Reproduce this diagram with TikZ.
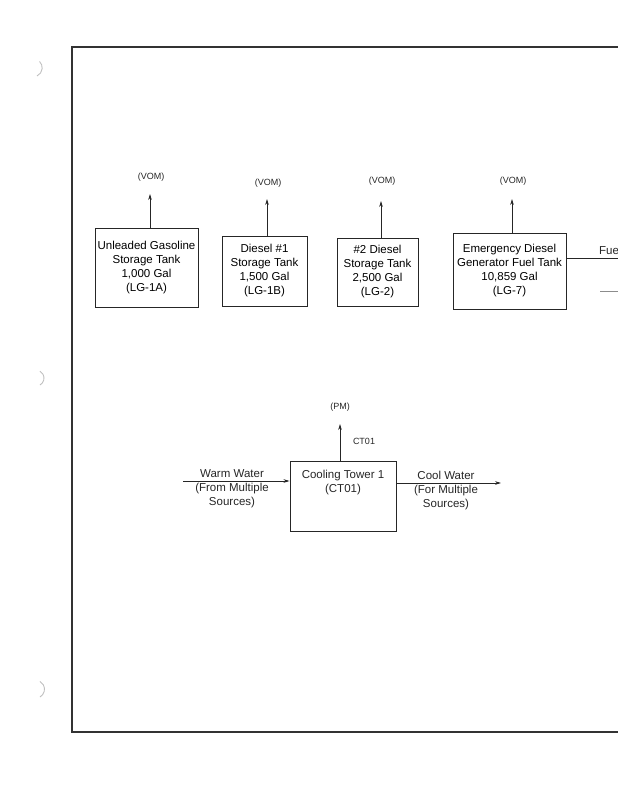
\documentclass[tikz,border=0pt]{standalone}
\usepackage{fontspec}
\setmainfont{Liberation Sans}
\usetikzlibrary{arrows.meta}
\begin{document}
\begin{tikzpicture}[x=1pt,y=-1pt,
  tank/.style={draw=black!85,line width=0.9pt,inner sep=0pt,align=center,font=\fontsize{11.5}{14}\selectfont},
  lbl/.style={inner sep=0pt,align=center,font=\fontsize{11.5}{14}\selectfont,text=black!85},
  small/.style={inner sep=0pt,font=\fontsize{9}{11}\selectfont,text=black!85},
  flow/.style={draw=black!85,line width=0.8pt,-{Stealth[length=6pt,width=3.6pt]}},
  plain/.style={draw=black!85,line width=0.8pt},
  frame/.style={draw=black!80,line width=1.6pt},
  hole/.style={draw=black!25,line width=0.9pt}]
\useasboundingbox (0,0) rectangle (618,800);
% page frame
\coordinate (ftl) at (72,47);
\coordinate (ftr) at (618,47);
\coordinate (fbl) at (72,732);
\coordinate (fbr) at (618,732);
\draw[frame] (ftr) -- (ftl) -- (fbl) -- (fbr);
% binder holes
\draw[hole] (37,76) arc (65:-45:9);
\draw[hole] (40,385) arc (60:-60:8);
\draw[hole] (40,697) arc (60:-60:9);
% storage tanks
\node[tank,minimum width=103pt,minimum height=79pt] (t1) at (146.5,267.5) {Unleaded Gasoline\\Storage Tank\\1,000 Gal\\(LG-1A)};
\node[tank,minimum width=85pt,minimum height=70pt] (t2) at (264.5,271) {Diesel \#1\\Storage Tank\\1,500 Gal\\(LG-1B)};
\node[tank,minimum width=81pt,minimum height=68pt] (t3) at (377.5,272) {\#2 Diesel\\Storage Tank\\2,500 Gal\\(LG-2)};
\node[tank,minimum width=113pt,minimum height=76pt] (t4) at (509.5,271) {Emergency Diesel\\Generator Fuel Tank\\10,859 Gal\\(LG-7)};
% VOM outlets
\coordinate (a1) at (150,194);
\coordinate (a2) at (267,199);
\coordinate (a3) at (381,201);
\coordinate (a4) at (512,199);
\draw[flow] (t1.north -| a1) -- (a1);
\draw[flow] (t2.north -| a2) -- (a2);
\draw[flow] (t3.north -| a3) -- (a3);
\draw[flow] (t4.north -| a4) -- (a4);
\node[small] (v1) at (151,177) {(VOM)};
\node[small] (v2) at (268,183) {(VOM)};
\node[small] (v3) at (382,181) {(VOM)};
\node[small] (v4) at (513,181) {(VOM)};
% fuel line
\coordinate (fuel) at (618,258);
\draw[plain] (t4.east |- fuel) -- (fuel);
\node[lbl,anchor=base west] (fl) at (599,254) {Fue};
\coordinate (g1) at (600,291);
\coordinate (g2) at (618,291);
\draw[draw=black!45,line width=0.6pt] (g1) -- (g2);
% cooling tower
\node[tank,minimum width=106pt,minimum height=70pt] (ct) at (343,496) {};
\node[lbl,anchor=north] (ctl) at (343,470) {Cooling Tower 1\\(CT01)};
\coordinate (pm) at (340,424);
\draw[flow] (ct.north -| pm) -- (pm);
\node[small] (pml) at (340,407) {(PM)};
\node[small] (ctag) at (364,441) {CT01};
\coordinate (win) at (183,481);
\draw[flow] (win) -- (win -| ct.west);
\node[lbl] (ww) at (232,489) {Warm Water\\(From Multiple\\Sources)};
\coordinate (cout) at (501,483);
\draw[flow] (cout -| ct.east) -- (cout);
\node[lbl] (cw) at (446,491) {Cool Water\\(For Multiple\\Sources)};
\end{tikzpicture}
\end{document}
